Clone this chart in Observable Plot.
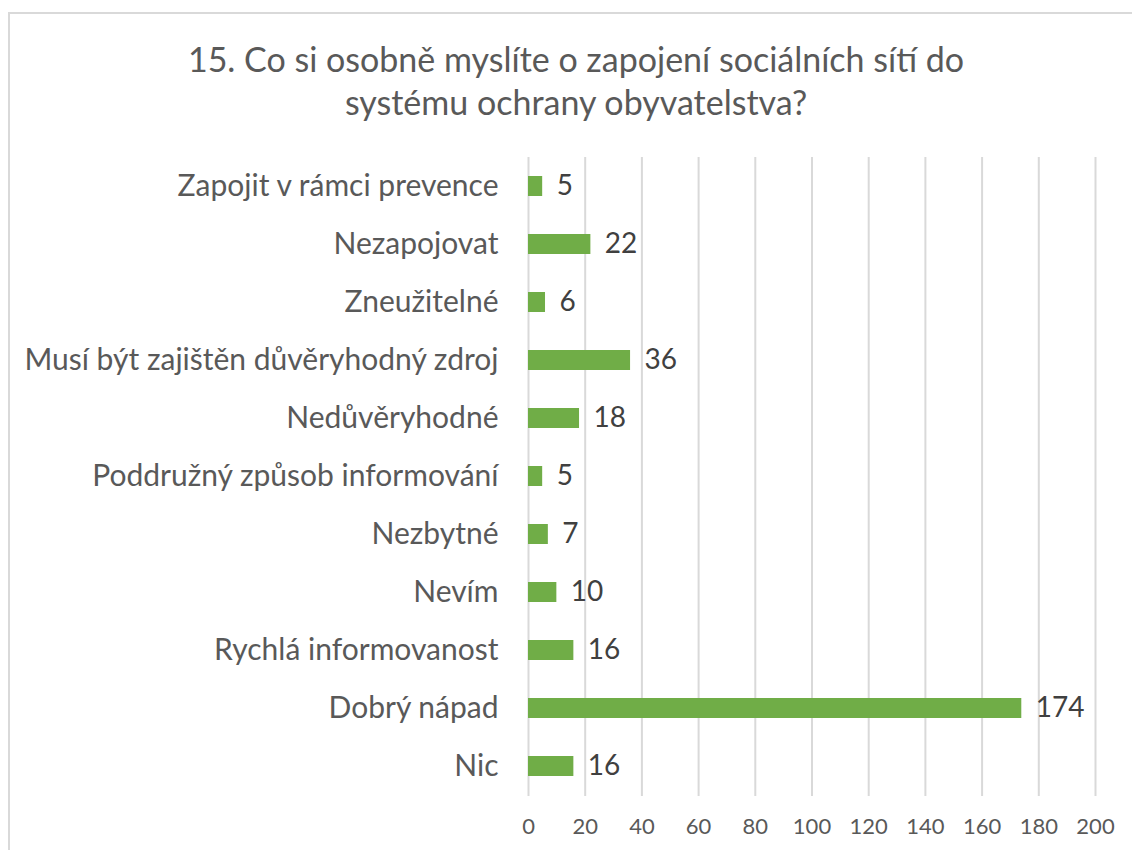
<!DOCTYPE html>
<html>
<head>
<meta charset="utf-8">
<script src="https://cdn.jsdelivr.net/npm/d3@7"></script>
<script src="https://cdn.jsdelivr.net/npm/@observablehq/plot@0.6"></script>
<style>
  body { margin: 0; background: #fff; font-family: Lato, "Open Sans", sans-serif; }
  #wrap { position: relative; width: 1132px; height: 850px; overflow: hidden; }
  #frame { position: absolute; left: 8px; top: 12px; width: 1200px; height: 900px; border: 2px solid #d9d9d9; box-sizing: border-box; }
  #title { position: absolute; left: 0; top: 37px; width: 1152px; text-align: center; font-size: 34px; line-height: 43px; color: #595959; }
  #chart { position: absolute; left: 0; top: 145px; }
</style>
</head>
<body>
<div id="wrap">
  <div id="frame"></div>
  <div id="title">15. Co si osobně myslíte o zapojení sociálních sítí do<br>systému ochrany obyvatelstva?</div>
  <div id="chart"></div>
</div>
<script>
const categories = [
  "Zapojit v rámci prevence",
  "Nezapojovat",
  "Zneužitelné",
  "Musí být zajištěn důvěryhodný zdroj",
  "Nedůvěryhodné",
  "Poddružný způsob informování",
  "Nezbytné",
  "Nevím",
  "Rychlá informovanost",
  "Dobrý nápad",
  "Nic"
];
const values = [5, 22, 6, 36, 18, 5, 7, 10, 16, 174, 16];
const xTicks = [0, 20, 40, 60, 80, 100, 120, 140, 160, 180, 200];

const data = categories.map((c, i) => ({category: c, value: values[i]}));

const chart = Plot.plot({
  width: 1132,
  height: 705,
  marginLeft: 528,
  marginRight: 37,
  marginTop: 12,
  marginBottom: 54,
  style: { fontFamily: "Lato, 'Open Sans', sans-serif", background: "transparent" },
  x: { domain: [0, 200], ticks: xTicks, label: null },
  y: { domain: categories, paddingInner: 0.655, paddingOuter: 0.3275, label: null },
  marks: [
    Plot.ruleX(xTicks, { stroke: "#d9d9d9", strokeWidth: 2 }),
    Plot.barX(data, { x: "value", y: "category", fill: "#70ad47" }),
    Plot.text(data, { x: "value", y: "category", text: d => String(d.value), dx: 14, textAnchor: "start", fontSize: 28, fill: "#404040" }),
    Plot.axisX({ ticks: xTicks, tickSize: 0, tickPadding: 22, fontSize: 22, color: "#595959", label: null }),
    Plot.axisY({ tickSize: 0, tickPadding: 30, fontSize: 30, color: "#595959", label: null })
  ]
});
document.getElementById("chart").appendChild(chart);
</script>
</body>
</html>
